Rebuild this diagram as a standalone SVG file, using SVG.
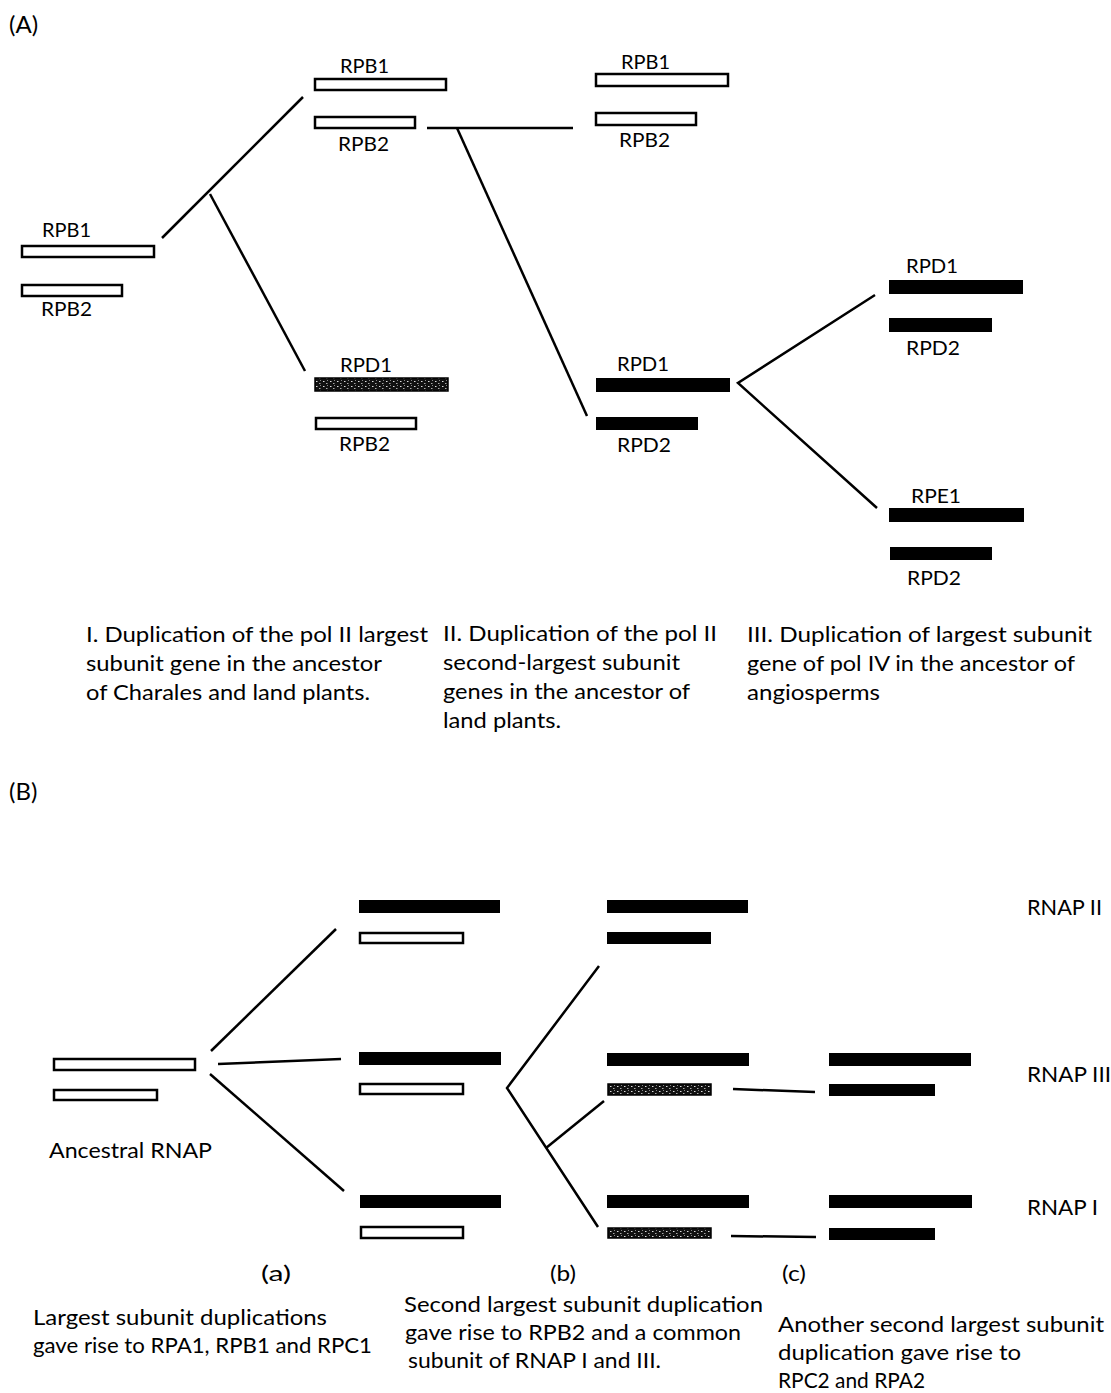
<svg xmlns="http://www.w3.org/2000/svg" width="1111" height="1393" viewBox="0 0 1111 1393">
<style>
  text { font-family: Lato, "Open Sans", "Liberation Sans", sans-serif; font-size: 20px; fill: #000; }
  .cap { font-size: 21.5px; }
  .panel { font-size: 24px; }
  .open { fill: #fff; stroke: #000; stroke-width: 2.5; }
  .solid { fill: #000; }
  .speck { fill: url(#speckle); stroke: #000; stroke-width: 1.5; }
  .conn line, .conn polyline { stroke: #000; stroke-width: 2.5; fill: none; stroke-linecap: butt; }
</style>
<defs>
  <pattern id="speckle" patternUnits="userSpaceOnUse" width="7" height="5">
    <rect width="7" height="5" fill="#111"/>
    <rect x="1" y="1" width="1.5" height="1" fill="#ddd"/>
    <rect x="4" y="3" width="1.5" height="1" fill="#aaa"/>
    <rect x="5" y="0" width="1" height="1" fill="#888"/>
  </pattern>
</defs>
<rect width="1111" height="1393" fill="#fff"/>

<text class="panel" x="9" y="33">(A)</text>
<text class="panel" x="9" y="800">(B)</text>

<!-- Part A nodes -->
<g id="a-anc">
  <rect class="open" x="22" y="246" width="132" height="11"/>
  <text x="42" y="237" textLength="49" lengthAdjust="spacingAndGlyphs">RPB1</text>
  <rect class="open" x="22" y="285" width="100" height="11"/>
  <text x="41" y="316" textLength="51" lengthAdjust="spacingAndGlyphs">RPB2</text>
</g>
<g id="a-pol2-top">
  <rect class="open" x="315" y="79" width="131" height="11"/>
  <text x="340" y="73" textLength="49" lengthAdjust="spacingAndGlyphs">RPB1</text>
  <rect class="open" x="315" y="117" width="100" height="11"/>
  <text x="338" y="151" textLength="51" lengthAdjust="spacingAndGlyphs">RPB2</text>
</g>
<g id="a-pol4-anc">
  <rect class="speck" x="315" y="378" width="133" height="13"/>
  <text x="340" y="372" textLength="52" lengthAdjust="spacingAndGlyphs">RPD1</text>
  <rect class="open" x="316" y="418" width="100" height="11"/>
  <text x="339" y="451" textLength="51" lengthAdjust="spacingAndGlyphs">RPB2</text>
</g>
<g id="a-pol2-right">
  <rect class="open" x="596" y="74" width="132" height="12"/>
  <text x="621" y="69" textLength="49" lengthAdjust="spacingAndGlyphs">RPB1</text>
  <rect class="open" x="596" y="113" width="100" height="12"/>
  <text x="619" y="147" textLength="51" lengthAdjust="spacingAndGlyphs">RPB2</text>
</g>
<g id="a-pol4">
  <rect class="solid" x="596" y="378" width="134" height="14"/>
  <text x="617" y="371" textLength="52" lengthAdjust="spacingAndGlyphs">RPD1</text>
  <rect class="solid" x="596" y="417" width="102" height="13"/>
  <text x="617" y="452" textLength="54" lengthAdjust="spacingAndGlyphs">RPD2</text>
</g>
<g id="a-pol4-right">
  <rect class="solid" x="889" y="280" width="134" height="14"/>
  <text x="906" y="273" textLength="52" lengthAdjust="spacingAndGlyphs">RPD1</text>
  <rect class="solid" x="889" y="318" width="103" height="14"/>
  <text x="906" y="355" textLength="54" lengthAdjust="spacingAndGlyphs">RPD2</text>
</g>
<g id="a-pol5">
  <rect class="solid" x="889" y="508" width="135" height="14"/>
  <text x="911" y="503" textLength="50" lengthAdjust="spacingAndGlyphs">RPE1</text>
  <rect class="solid" x="890" y="547" width="102" height="13"/>
  <text x="907" y="585" textLength="54" lengthAdjust="spacingAndGlyphs">RPD2</text>
</g>

<g id="a-caption-1" class="cap">
  <text class="cap" x="86" y="642" textLength="342" lengthAdjust="spacingAndGlyphs">I.  Duplication of the pol II largest</text>
  <text class="cap" x="86" y="671" textLength="296" lengthAdjust="spacingAndGlyphs">subunit gene in the ancestor</text>
  <text class="cap" x="86" y="700" textLength="284" lengthAdjust="spacingAndGlyphs">of Charales and land plants.</text>
</g>
<g id="a-caption-2">
  <text class="cap" x="443" y="641" textLength="274" lengthAdjust="spacingAndGlyphs">II.  Duplication of the pol II</text>
  <text class="cap" x="443" y="670" textLength="237" lengthAdjust="spacingAndGlyphs">second-largest subunit</text>
  <text class="cap" x="443" y="699" textLength="247" lengthAdjust="spacingAndGlyphs">genes in the ancestor of</text>
  <text class="cap" x="443" y="728" textLength="118" lengthAdjust="spacingAndGlyphs">land plants.</text>
</g>
<g id="a-caption-3">
  <text class="cap" x="747" y="642" textLength="345" lengthAdjust="spacingAndGlyphs">III.  Duplication of largest subunit</text>
  <text class="cap" x="747" y="671" textLength="328" lengthAdjust="spacingAndGlyphs">gene of pol IV in the ancestor of</text>
  <text class="cap" x="747" y="700" textLength="133" lengthAdjust="spacingAndGlyphs">angiosperms</text>
</g>

<!-- Part B nodes -->
<g id="b-ancestral">
  <rect class="open" x="54" y="1059" width="141" height="11"/>
  <rect class="open" x="54" y="1090" width="103" height="10"/>
  <text class="cap" x="49" y="1158" textLength="163" lengthAdjust="spacingAndGlyphs">Ancestral RNAP</text>
</g>
<g id="b-a-2">
  <rect class="solid" x="359" y="900" width="141" height="13"/>
  <rect class="open" x="360" y="933" width="103" height="10"/>
</g>
<g id="b-a-3">
  <rect class="solid" x="359" y="1052" width="142" height="13"/>
  <rect class="open" x="360" y="1084" width="103" height="10"/>
</g>
<g id="b-a-1">
  <rect class="solid" x="360" y="1195" width="141" height="13"/>
  <rect class="open" x="361" y="1227" width="102" height="11"/>
</g>
<g id="b-b-2">
  <rect class="solid" x="607" y="900" width="141" height="13"/>
  <rect class="solid" x="607" y="932" width="104" height="12"/>
</g>
<g id="b-b-3">
  <rect class="solid" x="607" y="1053" width="142" height="13"/>
  <rect class="speck" x="608" y="1084" width="103" height="11"/>
</g>
<g id="b-b-1">
  <rect class="solid" x="607" y="1195" width="142" height="13"/>
  <rect class="speck" x="608" y="1228" width="103" height="10"/>
</g>
<g id="b-c-3">
  <rect class="solid" x="829" y="1053" width="142" height="13"/>
  <rect class="solid" x="829" y="1084" width="106" height="12"/>
</g>
<g id="b-c-1">
  <rect class="solid" x="829" y="1195" width="143" height="13"/>
  <rect class="solid" x="829" y="1228" width="106" height="12"/>
</g>
<g id="b-labels">
  <text class="cap" x="1027" y="915" textLength="75" lengthAdjust="spacingAndGlyphs">RNAP II</text>
  <text class="cap" x="1027" y="1082" textLength="84" lengthAdjust="spacingAndGlyphs">RNAP III</text>
  <text class="cap" x="1027" y="1215" textLength="71" lengthAdjust="spacingAndGlyphs">RNAP I</text>
</g>
<g id="b-caption-a">
  <text class="cap" x="261" y="1281" textLength="30" lengthAdjust="spacingAndGlyphs">(a)</text>
  <text class="cap" x="33" y="1325" textLength="294" lengthAdjust="spacingAndGlyphs">Largest subunit duplications</text>
  <text class="cap" x="33" y="1353" textLength="339" lengthAdjust="spacingAndGlyphs">gave rise to RPA1, RPB1 and RPC1</text>
</g>
<g id="b-caption-b">
  <text class="cap" x="550" y="1281" textLength="26" lengthAdjust="spacingAndGlyphs">(b)</text>
  <text class="cap" x="404" y="1312" textLength="359" lengthAdjust="spacingAndGlyphs">Second largest subunit duplication</text>
  <text class="cap" x="405" y="1340" textLength="336" lengthAdjust="spacingAndGlyphs">gave rise to RPB2 and a common</text>
  <text class="cap" x="408" y="1368" textLength="253" lengthAdjust="spacingAndGlyphs">subunit of RNAP I and III.</text>
</g>
<g id="b-caption-c">
  <text class="cap" x="782" y="1281" textLength="24" lengthAdjust="spacingAndGlyphs">(c)</text>
  <text class="cap" x="778" y="1332" textLength="326" lengthAdjust="spacingAndGlyphs">Another second largest subunit</text>
  <text class="cap" x="778" y="1360" textLength="243" lengthAdjust="spacingAndGlyphs">duplication gave rise to</text>
  <text class="cap" x="778" y="1388" textLength="147" lengthAdjust="spacingAndGlyphs">RPC2 and RPA2</text>
</g>

<!-- Connectors -->
<g id="connectors" class="conn">
  <line x1="162" y1="238" x2="303" y2="97"/>
  <line x1="210" y1="194" x2="305" y2="371"/>
  <line x1="427" y1="128" x2="573" y2="128"/>
  <line x1="457" y1="128" x2="587" y2="416"/>
  <polyline points="875,295 738,383 877,508"/>
  <line x1="211" y1="1051" x2="336" y2="929"/>
  <line x1="218" y1="1064" x2="341" y2="1059"/>
  <line x1="210" y1="1074" x2="344" y2="1191"/>
  <polyline points="599,966 507,1088 598,1227"/>
  <line x1="546" y1="1148" x2="604" y2="1101"/>
  <line x1="733" y1="1089" x2="815" y2="1092"/>
  <line x1="731" y1="1236" x2="816" y2="1237"/>
</g>
</svg>
